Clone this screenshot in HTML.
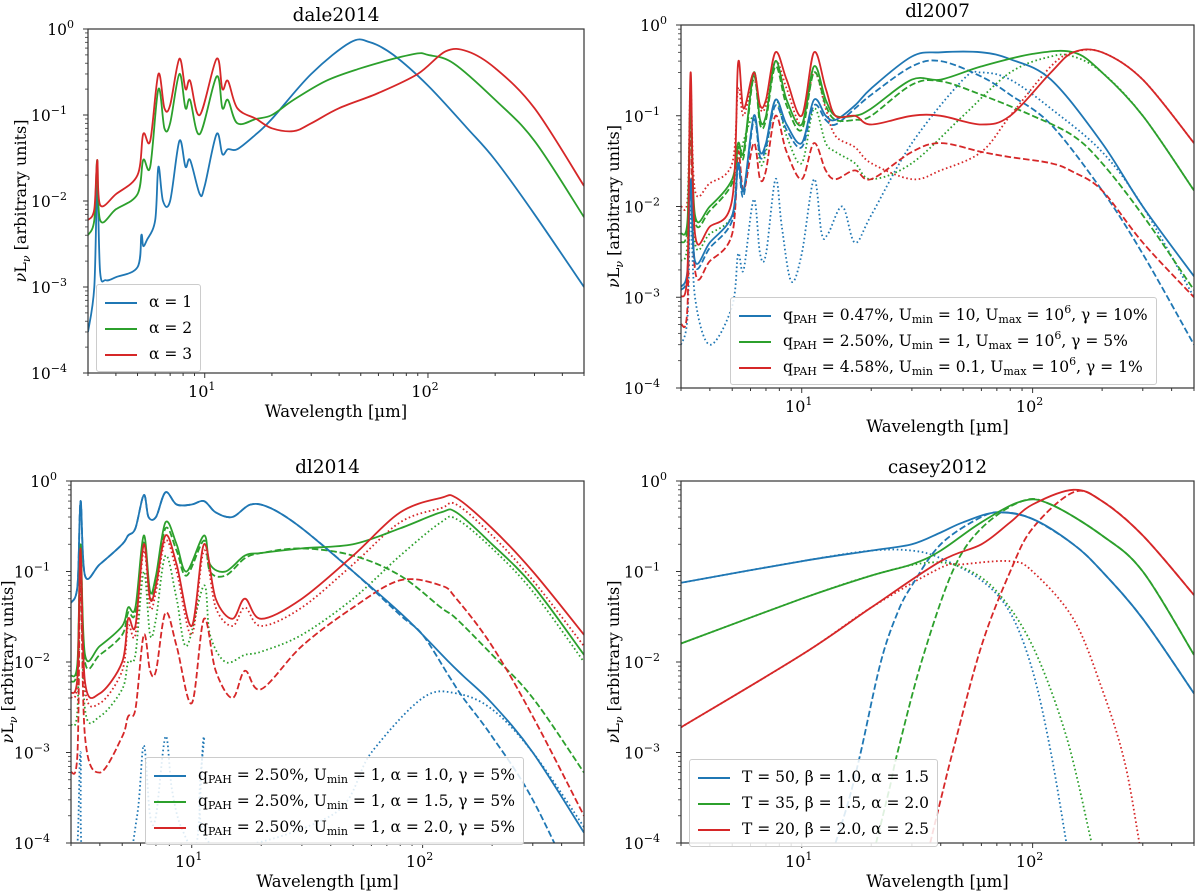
<!DOCTYPE html>
<html><head><meta charset="utf-8">
<style>
body{margin:0;background:#fff;}
#wrap{position:relative;width:1200px;height:893px;overflow:hidden;font-family:"DejaVu Serif","Liberation Serif",serif;}
svg{position:absolute;left:0;top:0;}
.leg{position:absolute;background:rgba(255,255,255,0.85);border:1px solid #ccc;border-radius:3px;font-size:15.5px;color:#000;padding:4px 8px;white-space:nowrap;}
.leg .row{height:26px;line-height:26px;white-space:nowrap;}
.leg .sw{display:inline-block;width:32px;height:0;border-top:2px solid;margin-right:12px;vertical-align:middle;}
.leg sub{font-size:11px;vertical-align:-3px;line-height:0;}
.leg sup{font-size:11px;vertical-align:7px;line-height:0;}
</style></head><body>
<div id="wrap">
<svg id="svg" width="1200" height="893"></svg>

<div class="leg" style="left:96px;top:284px;">
 <div class="row"><span class="sw" style="border-color:#1f77b4"></span><span>α = 1</span></div>
 <div class="row"><span class="sw" style="border-color:#2ca02c"></span><span>α = 2</span></div>
 <div class="row"><span class="sw" style="border-color:#d62728"></span><span>α = 3</span></div>
</div>
<div class="leg" style="left:730px;top:297px;">
 <div class="row"><span class="sw" style="border-color:#1f77b4"></span><span>q<sub>PAH</sub> = 0.47%, U<sub>min</sub> = 10, U<sub>max</sub> = 10<sup>6</sup>, γ = 10%</span></div>
 <div class="row"><span class="sw" style="border-color:#2ca02c"></span><span>q<sub>PAH</sub> = 2.50%, U<sub>min</sub> = 1, U<sub>max</sub> = 10<sup>6</sup>, γ = 5%</span></div>
 <div class="row"><span class="sw" style="border-color:#d62728"></span><span>q<sub>PAH</sub> = 4.58%, U<sub>min</sub> = 0.1, U<sub>max</sub> = 10<sup>6</sup>, γ = 1%</span></div>
</div>
<div class="leg" style="left:145px;top:757px;">
 <div class="row"><span class="sw" style="border-color:#1f77b4"></span><span>q<sub>PAH</sub> = 2.50%, U<sub>min</sub> = 1, α = 1.0, γ = 5%</span></div>
 <div class="row"><span class="sw" style="border-color:#2ca02c"></span><span>q<sub>PAH</sub> = 2.50%, U<sub>min</sub> = 1, α = 1.5, γ = 5%</span></div>
 <div class="row"><span class="sw" style="border-color:#d62728"></span><span>q<sub>PAH</sub> = 2.50%, U<sub>min</sub> = 1, α = 2.0, γ = 5%</span></div>
</div>
<div class="leg" style="left:689px;top:759px;">
 <div class="row"><span class="sw" style="border-color:#1f77b4"></span><span>T = 50, β = 1.0, α = 1.5</span></div>
 <div class="row"><span class="sw" style="border-color:#2ca02c"></span><span>T = 35, β = 1.5, α = 2.0</span></div>
 <div class="row"><span class="sw" style="border-color:#d62728"></span><span>T = 20, β = 2.0, α = 2.5</span></div>
</div>
</div>
<script>
// ---------- data (wavelength in µm, nuLnu in arbitrary units) ----------
// dale2014
const dale_a1_wl  = [3,3.2,3.3,3.4,3.6,4,5,5.2,5.3,5.5,6,6.2,6.5,7,7.7,8.2,8.6,9.5,10,11.3,12,12.7,14,17,20,30,45,55,70,100,150,200,300,500];
const dale_a1_val = [3e-4,1e-3,1.5e-2,1.5e-3,1.2e-3,1.3e-3,1.7e-3,4e-3,3e-3,3.5e-3,6e-3,2.5e-2,1e-2,1e-2,5e-2,2.5e-2,3e-2,1.2e-2,1.5e-2,6e-2,3.5e-2,4e-2,4e-2,6e-2,9e-2,0.3,0.7,0.7,0.5,0.22,0.07,0.03,0.007,1e-3];
const dale_a2_wl  = [3,3.2,3.3,3.4,4,5,5.3,5.7,6.2,6.6,7,7.7,8.2,8.6,9.5,11.3,12,12.7,14,17,20,25,35,50,70,90,100,130,200,300,500];
const dale_a2_val = [4e-3,6e-3,3e-2,6e-3,8e-3,1.2e-2,3e-2,2.5e-2,0.2,0.07,0.08,0.3,0.12,0.15,0.06,0.28,0.12,0.15,0.08,0.09,0.1,0.15,0.25,0.35,0.45,0.52,0.5,0.4,0.15,0.05,6.5e-3];
const dale_a3_wl  = [3,3.2,3.3,3.4,4,5,5.3,5.7,6.2,6.6,7,7.7,8.2,8.6,9.5,11.3,12,12.7,14,17,20,25,30,40,60,90,120,150,200,300,500];
const dale_a3_val = [6e-3,8e-3,3e-2,9e-3,1.2e-2,2e-2,6e-2,5e-2,0.3,0.12,0.13,0.45,0.2,0.25,0.1,0.45,0.2,0.25,0.12,0.09,0.07,0.065,0.08,0.12,0.18,0.3,0.55,0.55,0.35,0.12,0.015];

// dl2007
const dl07_b_wl  = [3,3.2,3.3,3.45,4,5,5.3,5.6,6.2,6.6,7,7.7,8.6,10,11.3,12.7,14,17,20,30,40,60,80,120,200,300,500];
const dl07_b_sol = [1.3e-3,2e-3,2e-2,2.5e-3,4e-3,8e-3,3e-2,1.5e-2,0.1,0.04,0.05,0.15,0.08,0.05,0.15,0.1,0.09,0.13,0.2,0.45,0.5,0.5,0.42,0.25,0.05,0.01,1.7e-3];
const dl07_b_dsh = [1.2e-3,1.8e-3,1.8e-2,2.2e-3,3.5e-3,7e-3,2.7e-2,1.3e-2,0.09,0.035,0.045,0.13,0.07,0.045,0.13,0.09,0.08,0.12,0.17,0.35,0.4,0.27,0.17,0.08,0.015,3e-3,3e-4];
const dl07_b_dot_wl  = [3,3.2,3.3,3.45,4,5,5.3,5.6,6.2,6.6,7,7.7,8.2,9,10,11.3,12.2,13,15,17,20,30,50,60,80,120,200,300,500];
const dl07_b_dot = [3e-4,6e-4,1e-2,1e-3,3e-4,8e-4,3e-3,2e-3,1.2e-2,3e-3,3e-3,2e-2,6e-3,1.5e-3,3e-3,2e-2,5e-3,5e-3,1e-2,4e-3,8e-3,0.05,0.25,0.3,0.25,0.12,0.04,0.01,1e-3];
const dl07_g_wl  = [3,3.2,3.3,3.45,4,5,5.3,5.6,6.2,6.6,7,7.7,8.6,10,11.3,12.7,14,17,20,30,40,60,100,150,200,300,500];
const dl07_g_sol = [5e-3,7e-3,0.15,8e-3,1e-2,2e-2,0.05,0.04,0.3,0.09,0.1,0.4,0.15,0.08,0.35,0.15,0.1,0.1,0.12,0.25,0.25,0.35,0.48,0.5,0.3,0.1,0.015];
const dl07_g_dsh = [4e-3,6e-3,0.13,7e-3,9e-3,1.8e-2,0.045,0.035,0.27,0.08,0.09,0.35,0.13,0.07,0.3,0.13,0.09,0.09,0.1,0.22,0.24,0.17,0.1,0.06,0.03,0.008,1.2e-3];
const dl07_g_dot_wl = [3,3.2,3.3,3.45,4,5,5.3,6.2,6.6,7,7.7,8.6,10,11.3,12.7,14,17,20,30,50,80,120,150,200,300,500];
const dl07_g_dot = [2.5e-3,4e-3,0.1,4e-3,5e-3,8e-3,0.03,0.1,0.03,0.04,0.15,0.06,0.03,0.12,0.05,0.04,0.03,0.02,0.03,0.1,0.3,0.45,0.45,0.3,0.1,0.015];
const dl07_r_wl  = [3,3.2,3.3,3.45,4,5,5.3,5.6,6.2,6.6,7,7.7,8.6,10,11.3,12.7,14,17,20,30,40,60,80,120,150,200,300,500];
const dl07_r_sol = [1e-3,2e-3,0.3,5e-3,6e-3,1.2e-2,0.38,0.12,0.3,0.13,0.15,0.5,0.25,0.1,0.5,0.2,0.1,0.1,0.08,0.1,0.1,0.08,0.1,0.3,0.5,0.5,0.25,0.05];
const dl07_r_dsh = [5e-4,8e-4,0.1,2e-3,2.5e-3,5e-3,0.04,0.015,0.05,0.02,0.025,0.1,0.04,0.02,0.05,0.025,0.02,0.025,0.02,0.04,0.05,0.04,0.035,0.03,0.024,0.015,4e-3,1e-3];
const dl07_r_dot = [1e-2,1.2e-2,0.2,1.5e-2,1.8e-2,3e-2,0.2,0.1,0.25,0.12,0.13,0.4,0.2,0.08,0.3,0.12,0.06,0.045,0.03,0.02,0.025,0.04,0.1,0.35,0.5,0.5,0.25,0.05];

// dl2014
const dl14_b_wl  = [3,3.2,3.3,3.45,4,5,5.3,5.7,6.2,6.5,7,7.7,8.6,10,11.3,12.7,15,18,22,30,50,80,100,130,150,200,300,500];
const dl14_b_sol = [4.5e-2,0.07,0.6,0.09,0.12,0.2,0.25,0.3,0.7,0.4,0.4,0.75,0.55,0.55,0.6,0.45,0.4,0.55,0.5,0.3,0.1,0.035,0.02,0.01,7e-3,3.5e-3,1e-3,1.3e-4];
const dl14_b_dsh = [4.5e-2,0.07,0.6,0.09,0.12,0.2,0.25,0.3,0.7,0.4,0.4,0.75,0.55,0.55,0.6,0.45,0.4,0.55,0.5,0.3,0.1,0.033,0.02,7e-3,4e-3,1.5e-3,3e-4,2e-5];
const dl14_b_dot_wl = [3,3.2,3.3,3.45,5,5.8,6.2,6.6,7,7.7,8.2,9,10.5,11.3,12,40,60,100,140,200,300,500];
const dl14_b_dot = [3e-5,1e-4,1e-3,4e-5,4e-5,2e-4,1.2e-3,2e-4,2e-4,1.5e-3,4e-4,1.5e-4,1e-4,1.5e-3,1e-4,2e-4,1e-3,4e-3,4.5e-3,3e-3,1e-3,1.5e-4];
const dl14_g_wl  = [3,3.2,3.3,3.45,4,5,5.3,5.7,6.2,6.6,7,7.7,8.6,9.5,11.3,12,14,17,20,30,50,80,120,140,200,300,500];
const dl14_g_sol = [7e-3,1e-2,0.2,1.2e-2,1.5e-2,2.5e-2,4e-2,4e-2,0.25,0.06,0.09,0.35,0.2,0.1,0.25,0.12,0.1,0.15,0.16,0.18,0.2,0.3,0.45,0.45,0.2,0.07,0.012];
const dl14_g_dsh = [6e-3,9e-3,0.18,1e-2,1.2e-2,2e-2,3.5e-2,3.5e-2,0.22,0.05,0.08,0.3,0.17,0.09,0.22,0.1,0.09,0.14,0.16,0.18,0.15,0.09,0.04,0.03,0.012,4e-3,6e-4];
const dl14_g_dot = [2e-3,3e-3,0.1,3e-3,2.5e-3,5e-3,1e-2,1.2e-2,0.1,0.02,0.03,0.15,0.05,0.015,0.07,0.02,0.01,0.012,0.013,0.02,0.05,0.15,0.35,0.38,0.18,0.06,0.01];
const dl14_r_wl  = [3,3.2,3.3,3.45,4,5,5.3,5.7,6.2,6.6,7,7.7,8.6,10,11.3,12.7,15,17,20,30,50,80,120,140,200,300,500];
const dl14_r_sol = [4.5e-3,7e-3,0.18,6e-3,4.5e-3,1e-2,3e-2,2.5e-2,0.2,0.05,0.07,0.25,0.12,0.025,0.2,0.05,0.03,0.05,0.03,0.05,0.15,0.45,0.65,0.65,0.3,0.1,0.02];
const dl14_r_dsh = [6e-4,1e-3,0.1,1.5e-3,6e-4,1.5e-3,2.5e-3,3e-3,0.02,8e-3,8e-3,0.035,0.015,3.5e-3,0.03,8e-3,4e-3,8e-3,5e-3,0.015,0.04,0.08,0.07,0.05,0.015,2.5e-3,2e-4];
const dl14_r_dot = [4e-3,6e-3,0.15,5e-3,3.5e-3,8e-3,2.5e-2,2e-2,0.17,0.04,0.06,0.22,0.1,0.02,0.17,0.04,0.025,0.04,0.025,0.04,0.12,0.35,0.5,0.55,0.25,0.08,0.015];

// casey2012
const cas_b_wl  = [3,10,20,30,40,50,70,100,150,200,300,500];
const cas_b_sol = [0.075,0.13,0.17,0.2,0.27,0.35,0.45,0.38,0.2,0.1,0.03,4.5e-3];
const cas_b_dsh_wl = [14,16,18,22,26,30,40,60,75,100,150,200,300,500];
const cas_b_dsh = [1e-4,3e-4,1e-3,0.01,0.035,0.07,0.2,0.4,0.45,0.38,0.2,0.1,0.03,4.5e-3];
const cas_b_dot_wl = [3,10,20,30,40,60,80,100,120,140];
const cas_b_dot = [0.075,0.13,0.17,0.17,0.14,0.08,0.035,0.008,1e-3,1e-4];
const cas_g_wl  = [3,10,20,30,40,60,90,120,200,300,500];
const cas_g_sol = [0.016,0.05,0.09,0.12,0.17,0.35,0.6,0.55,0.25,0.1,0.012];
const cas_g_dsh_wl = [21,24,26,33,45,60,90,120,200,300,500];
const cas_g_dsh = [1e-4,4e-4,1e-3,0.01,0.1,0.3,0.6,0.55,0.25,0.1,0.012];
const cas_g_dot_wl = [3,10,20,35,50,70,100,140,180];
const cas_g_dot = [0.016,0.05,0.09,0.125,0.11,0.06,0.015,1.5e-3,1e-4];
const cas_r_wl  = [3,10,20,40,60,80,100,150,200,300,500];
const cas_r_sol = [1.9e-3,0.012,0.04,0.13,0.2,0.35,0.55,0.8,0.6,0.25,0.055];
const cas_r_dsh_wl = [36,40,45,60,80,100,150,200,300,500];
const cas_r_dsh = [1e-4,3e-4,1e-3,0.015,0.1,0.3,0.75,0.6,0.25,0.055];
const cas_r_dot_wl = [3,10,20,40,50,80,100,150,200,250,290];
const cas_r_dot = [1.9e-3,0.012,0.04,0.11,0.12,0.13,0.1,0.03,5e-3,8e-4,1e-4];

const xTickVals = [10,100];
const xTickLabels = ["1","2"];
const yTickExps = [0,-1,-2,-3,-4];

// ---------- drawing ----------
const NS = "http://www.w3.org/2000/svg";
const svg = document.getElementById('svg');
const COL = {b:'#1f77b4', g:'#2ca02c', r:'#d62728'};
const DASH = {sol:null, dsh:'6.5,2.8', dot:'1.6,2.6'};
const XMIN=3, XMAX=500, YMIN=1e-4, YMAX=1;

function mk(tag, attrs, parent){
  const e=document.createElementNS(NS,tag);
  for(const k in attrs) e.setAttribute(k,attrs[k]);
  (parent||svg).appendChild(e); return e;
}
function makeAxis(p){
  p.sx = v => p.x0 + (Math.log10(v)-Math.log10(XMIN))/(Math.log10(XMAX)-Math.log10(XMIN))*(p.x1-p.x0);
  p.sy = v => p.y1 - (Math.log10(v)-Math.log10(YMIN))/(Math.log10(YMAX)-Math.log10(YMIN))*(p.y1-p.y0);
}
function smoothPath(pts){
  let d='M'+pts[0][0].toFixed(1)+','+pts[0][1].toFixed(1);
  for(let i=0;i<pts.length-1;i++){
    const p0=pts[Math.max(i-1,0)], p1=pts[i], p2=pts[i+1], p3=pts[Math.min(i+2,pts.length-1)];
    const c1x=p1[0]+(p2[0]-p0[0])/6, c1y=p1[1]+(p2[1]-p0[1])/6;
    const c2x=p2[0]-(p3[0]-p1[0])/6, c2y=p2[1]-(p3[1]-p1[1])/6;
    d+='C'+c1x.toFixed(1)+','+c1y.toFixed(1)+' '+c2x.toFixed(1)+','+c2y.toFixed(1)+' '+p2[0].toFixed(1)+','+p2[1].toFixed(1);
  }
  return d;
}
let clipId=0;
function drawPanel(p){
  makeAxis(p);
  const g=mk('g',{});
  
  
  clipId++;
  const cp=mk('clipPath',{id:'c'+clipId},g);
  mk('rect',{x:p.x0,y:p.y0,width:p.x1-p.x0,height:p.y1-p.y0},cp);
  const lines=mk('g',{'clip-path':'url(#c'+clipId+')'},g);
  p.series.forEach(s=>{
    const pts=s.wl.map((w,i)=>[p.sx(w), p.sy(Math.max(s.val[i],1e-6))]);
    const path=mk('path',{d:smoothPath(pts),fill:'none',stroke:COL[s.c],'stroke-width':1.8,'stroke-linejoin':'round'},lines);
    if(DASH[s.st]) path.setAttribute('stroke-dasharray',DASH[s.st]);
    
    
  });
  const fr=mk('rect',{x:p.x0,y:p.y0,width:p.x1-p.x0,height:p.y1-p.y0,fill:'none',stroke:'#333','stroke-width':1.2},g);
  
  
  for(let dec=1; dec<=100; dec*=10){
    for(let m=1;m<10;m++){
      const v=dec*m; if(v<XMIN||v>XMAX) continue;
      const x=p.sx(v); const major=(m===1);
      mk('line',{x1:x,x2:x,y1:p.y1,y2:p.y1+(major?5:3),stroke:'#333','stroke-width':1},g);
    }
  }
  xTickVals.forEach((v,i)=>{
    const t=mk('text',{x:p.sx(v)-3,y:p.y1+24,'text-anchor':'middle','font-size':16},g);
    t.textContent='10';
    const s=mk('tspan',{dy:-7,'font-size':11},t); s.textContent=xTickLabels[i];
    
    
  });
  yTickExps.forEach(e=>{
    const y=p.sy(Math.pow(10,e));
    mk('line',{x1:p.x0-5,x2:p.x0,y1:y,y2:y,stroke:'#333','stroke-width':1},g);
    if(e>-4) for(let m=2;m<10;m++){ const yy=p.sy(m*Math.pow(10,e-1)); mk('line',{x1:p.x0-3,x2:p.x0,y1:yy,y2:yy,stroke:'#333','stroke-width':0.8},g); }
    const t=mk('text',{x:p.x0-(e<0?21:14),y:y+6,'text-anchor':'end','font-size':15.5},g);
    t.textContent='10';
    const s=mk('tspan',{dy:-7,'font-size':11},t); s.textContent=(e<0?'\u2212'+(-e):String(e));
    
    
  });
  const ti=mk('text',{x:(p.x0+p.x1)/2,y:p.y0-8,'text-anchor':'middle','font-size':18.5},g);
  ti.textContent=p.title;
  
  
  const xl=mk('text',{x:(p.x0+p.x1)/2,y:p.y1+44,'text-anchor':'middle','font-size':16.5},g);
  xl.textContent='Wavelength [µm]';
  
  
  const yx=p.ylx, yy=(p.y0+p.y1)/2;
  const yl=mk('text',{x:yx,y:yy,'text-anchor':'middle','font-size':16,transform:'rotate(-90 '+yx+' '+yy+')'},g);
  yl.innerHTML='<tspan font-style="italic">ν</tspan>L<tspan font-size="11" dy="4" font-style="italic">ν</tspan><tspan dy="-4"> [arbitrary units]</tspan>';
  
  
}

drawPanel({name:'panel-dale2014',title:'dale2014',x0:88,x1:584,y0:29,y1:373,ylx:26,series:[
  {name:'dale-alpha1',c:'b',st:'sol',wl:dale_a1_wl,val:dale_a1_val},
  {name:'dale-alpha2',c:'g',st:'sol',wl:dale_a2_wl,val:dale_a2_val},
  {name:'dale-alpha3',c:'r',st:'sol',wl:dale_a3_wl,val:dale_a3_val}]});
drawPanel({name:'panel-dl2007',title:'dl2007',x0:681,x1:1194,y0:25,y1:388,ylx:619,series:[
  {name:'dl07-blue-dotted',c:'b',st:'dot',wl:dl07_b_dot_wl,val:dl07_b_dot},
  {name:'dl07-green-dotted',c:'g',st:'dot',wl:dl07_g_dot_wl,val:dl07_g_dot},
  {name:'dl07-red-dotted',c:'r',st:'dot',wl:dl07_r_wl,val:dl07_r_dot},
  {name:'dl07-blue-dashed',c:'b',st:'dsh',wl:dl07_b_wl,val:dl07_b_dsh},
  {name:'dl07-green-dashed',c:'g',st:'dsh',wl:dl07_g_wl,val:dl07_g_dsh},
  {name:'dl07-red-dashed',c:'r',st:'dsh',wl:dl07_r_wl,val:dl07_r_dsh},
  {name:'dl07-blue-solid',c:'b',st:'sol',wl:dl07_b_wl,val:dl07_b_sol},
  {name:'dl07-green-solid',c:'g',st:'sol',wl:dl07_g_wl,val:dl07_g_sol},
  {name:'dl07-red-solid',c:'r',st:'sol',wl:dl07_r_wl,val:dl07_r_sol}]});
drawPanel({name:'panel-dl2014',title:'dl2014',x0:71,x1:584,y0:481,y1:843,ylx:13,series:[
  {name:'dl14-blue-dotted',c:'b',st:'dot',wl:dl14_b_dot_wl,val:dl14_b_dot},
  {name:'dl14-green-dotted',c:'g',st:'dot',wl:dl14_g_wl,val:dl14_g_dot},
  {name:'dl14-red-dotted',c:'r',st:'dot',wl:dl14_r_wl,val:dl14_r_dot},
  {name:'dl14-blue-dashed',c:'b',st:'dsh',wl:dl14_b_wl,val:dl14_b_dsh},
  {name:'dl14-green-dashed',c:'g',st:'dsh',wl:dl14_g_wl,val:dl14_g_dsh},
  {name:'dl14-red-dashed',c:'r',st:'dsh',wl:dl14_r_wl,val:dl14_r_dsh},
  {name:'dl14-blue-solid',c:'b',st:'sol',wl:dl14_b_wl,val:dl14_b_sol},
  {name:'dl14-green-solid',c:'g',st:'sol',wl:dl14_g_wl,val:dl14_g_sol},
  {name:'dl14-red-solid',c:'r',st:'sol',wl:dl14_r_wl,val:dl14_r_sol}]});
drawPanel({name:'panel-casey2012',title:'casey2012',x0:681,x1:1194,y0:481,y1:843,ylx:619,series:[
  {name:'casey-blue-dotted',c:'b',st:'dot',wl:cas_b_dot_wl,val:cas_b_dot},
  {name:'casey-green-dotted',c:'g',st:'dot',wl:cas_g_dot_wl,val:cas_g_dot},
  {name:'casey-red-dotted',c:'r',st:'dot',wl:cas_r_dot_wl,val:cas_r_dot},
  {name:'casey-blue-dashed',c:'b',st:'dsh',wl:cas_b_dsh_wl,val:cas_b_dsh},
  {name:'casey-green-dashed',c:'g',st:'dsh',wl:cas_g_dsh_wl,val:cas_g_dsh},
  {name:'casey-red-dashed',c:'r',st:'dsh',wl:cas_r_dsh_wl,val:cas_r_dsh},
  {name:'casey-blue-solid',c:'b',st:'sol',wl:cas_b_wl,val:cas_b_sol},
  {name:'casey-green-solid',c:'g',st:'sol',wl:cas_g_wl,val:cas_g_sol},
  {name:'casey-red-solid',c:'r',st:'sol',wl:cas_r_wl,val:cas_r_sol}]});
</script>
</body></html>
